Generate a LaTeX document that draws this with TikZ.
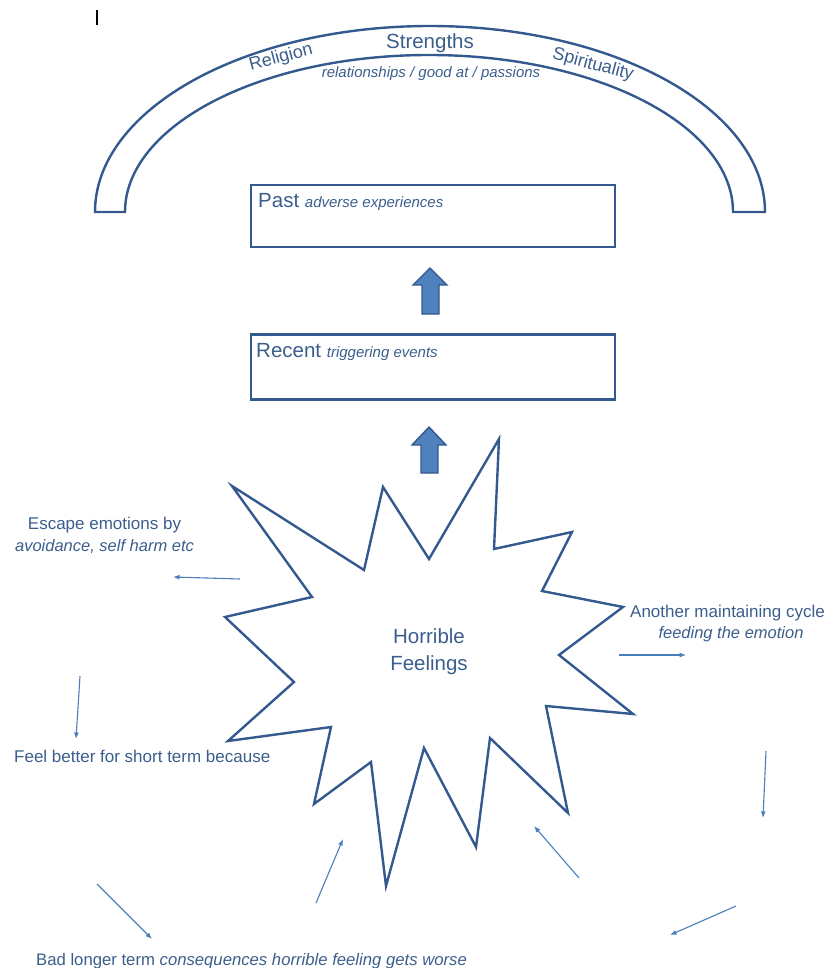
\documentclass[tikz,border=0pt]{standalone}
\usepackage{fontspec}
\setmainfont{Liberation Sans}
\usetikzlibrary{arrows.meta}
\definecolor{txt}{HTML}{3B5E8C}
\definecolor{edge}{HTML}{34598F}
\definecolor{thin}{HTML}{4A7EBB}
\definecolor{blockfill}{HTML}{4F81BD}
\tikzset{
  lbl/.style={text=txt, inner sep=0pt, font=\fontsize{17}{20}\selectfont},
  big/.style={text=txt, inner sep=0pt, font=\fontsize{20.5}{24}\selectfont},
  small/.style={text=txt, inner sep=0pt, font=\fontsize{15}{18}\selectfont\itshape},
  boxstyle/.style={draw=edge, line width=2.4pt},
  thinarrow/.style={draw=thin, line width=1.1pt, -{Latex[length=6.5pt,width=5pt]}},
  blockarrow/.style={draw=edge, fill=blockfill, line width=1.4pt, line join=miter},
}
\begin{document}
\begin{tikzpicture}[x=1pt,y=-1pt]
\useasboundingbox (0,0) rectangle (830,968);
% text cursor
\draw[black, line width=1.3pt] (97,10) -- (97,25);
% arch
\draw[boxstyle, line join=miter] (95,212) arc[start angle=180, end angle=0, x radius=335pt, y radius=186pt]
  -- (733,212) arc[start angle=0, end angle=180, x radius=304pt, y radius=157pt] -- cycle;
\node[big, anchor=base] (str) at (430,49) {Strengths};
\node[small, anchor=base] (rel) at (431,78) {relationships / good at / passions};
\node[lbl, anchor=center, rotate=15, font=\fontsize{18}{20}\selectfont] (relig) at (281,58) {Religion};
\node[lbl, anchor=center, rotate=-15, font=\fontsize{18}{20}\selectfont] (spir) at (593,65) {Spirituality};
% boxes
\node[boxstyle, rectangle, minimum width=364pt, minimum height=62pt, inner sep=0pt] (past) at (433,216) {};
\node[big, anchor=base west] (pastt) at (258,208) {Past \fontsize{15}{18}\selectfont\itshape adverse experiences};
\node[boxstyle, rectangle, minimum width=364pt, minimum height=65pt, inner sep=0pt] (recent) at (433,367) {};
\node[big, anchor=base west] (recentt) at (256,357) {Recent \fontsize{15}{18}\selectfont\itshape triggering events};
% block arrows
\draw[blockarrow] (422,314) -- (422,285) -- (413,285) -- (430,268) -- (447,285) -- (439,285) -- (439,314) -- cycle;
\draw[blockarrow] (421,473) -- (421,445) -- (412,445) -- (429,427) -- (446,445) -- (438,445) -- (438,473) -- cycle;
% star
\draw[draw=edge, line width=2.4pt, line join=miter, miter limit=20]
 (232,486) -- (364,570) -- (383,487) -- (429,559) -- (499,439) -- (494,549)
 -- (572,532) -- (542,591) -- (623,607) -- (559,655) -- (633,714) -- (546,706)
 -- (568,813) -- (490,738) -- (476,847) -- (424,748) -- (386,886) -- (371,762)
 -- (314,804) -- (331,727) -- (228,741) -- (294,682) -- (225,617) -- (312,597) -- cycle;
\node[big, anchor=base] (hor) at (429,643) {Horrible};
\node[big, anchor=base] (feel) at (429,670) {Feelings};
% labels
\node[lbl, anchor=base] (esc1) at (104.5,529) {Escape emotions by};
\node[lbl, anchor=base, font=\fontsize{16.5}{20}\selectfont\itshape] (esc2) at (104.5,551) {avoidance, self harm etc};
\node[lbl, anchor=base] (ano1) at (727.5,617) {Another maintaining cycle};
\node[lbl, anchor=base, font=\fontsize{16.5}{20}\selectfont\itshape] (ano2) at (731,638) {feeding the emotion};
\node[lbl, anchor=base west] (fb) at (14,762) {Feel better for short term because};
\node[lbl, anchor=base west, font=\fontsize{16.7}{20}\selectfont] (bad) at (36,965) {Bad longer term \itshape consequences horrible feeling gets worse};
% thin arrows
\coordinate (a1s) at (240,579); \coordinate (a1e) at (173,577);
\coordinate (a2s) at (619,655); \coordinate (a2e) at (686,655);
\coordinate (a3s) at (80,676); \coordinate (a3e) at (76,739);
\coordinate (a4s) at (766,751); \coordinate (a4e) at (763,818);
\coordinate (a5s) at (736,906); \coordinate (a5e) at (670,935);
\coordinate (a6s) at (579,878); \coordinate (a6e) at (534,826);
\coordinate (a7s) at (316,903); \coordinate (a7e) at (343,839);
\coordinate (a8s) at (97,884); \coordinate (a8e) at (152,939);
\draw[thinarrow] (a1s) -- (a1e);
\draw[thinarrow] (a2s) -- (a2e);
\draw[thinarrow] (a3s) -- (a3e);
\draw[thinarrow] (a4s) -- (a4e);
\draw[thinarrow] (a5s) -- (a5e);
\draw[thinarrow] (a6s) -- (a6e);
\draw[thinarrow] (a7s) -- (a7e);
\draw[thinarrow] (a8s) -- (a8e);
\end{tikzpicture}
\end{document}
